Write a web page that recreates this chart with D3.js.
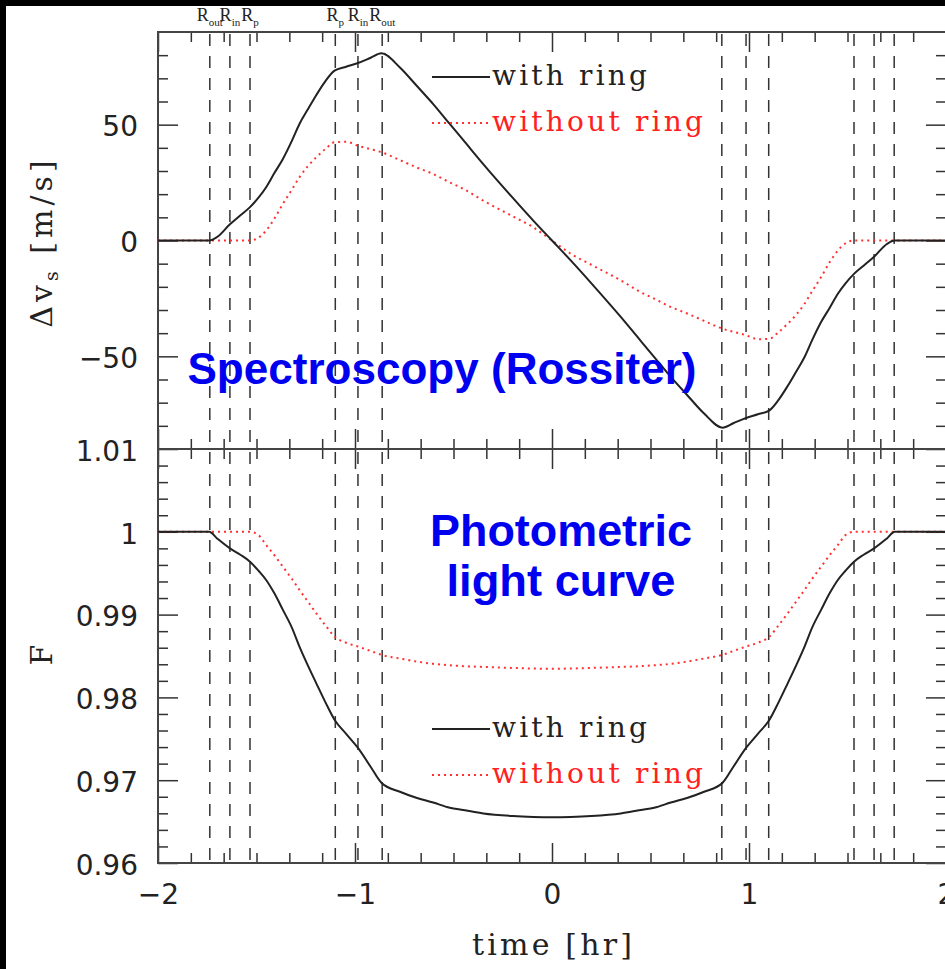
<!DOCTYPE html>
<html>
<head>
<meta charset="utf-8">
<script src="https://cdn.jsdelivr.net/npm/d3@7/dist/d3.min.js"></script>
<style>
  body { margin: 0; background: #000; }
  svg { display: block; }
</style>
</head>
<body>
<svg id="drawing_region"></svg>
<script>
// time grid [hr] shared by all four curves
const time = [-2.0, -1.74, -1.70, -1.635, -1.58, -1.533, -1.49, -1.451, -1.41, -1.366, -1.32, -1.282, -1.24, -1.197,
    -1.15, -1.104, -1.045, -0.985, -0.92, -0.866, -0.772, -0.689, -0.603, -0.519, -0.45, -0.349, -0.2, -0.095, 0,
    0.095, 0.2, 0.349, 0.45, 0.519, 0.603, 0.689, 0.772, 0.866, 0.92, 0.985, 1.045, 1.104, 1.15, 1.197, 1.24,
    1.282, 1.32, 1.366, 1.41, 1.451, 1.49, 1.533, 1.58, 1.635, 1.70, 1.74, 2.0];

// radial velocity anomaly [m/s]
const dv_ring = [0, 0, 1.5, 7, 11, 14.4, 18.5, 23, 29, 35.2, 43.1, 50.3, 56.5, 62.7,
    68.8, 73.3, 75.0, 76.6, 78.9, 80.8, 74.7, 67.0, 58.9, 50.3, 43.3, 33, 18.5, 8.6, 0,
    -8.6, -18.5, -33, -43.3, -50.3, -58.9, -67.0, -74.7, -80.8, -78.9, -76.6, -75.0, -73.3, -68.8, -62.7, -56.5,
    -50.3, -43.1, -35.2, -29, -23, -18.5, -14.4, -11, -7, -1.5, 0, 0];
const dv_noring = [0, 0, 0, 0, 0, 0, 1.2, 4.3, 9.3, 15.8, 22, 27.3, 32, 35.9,
    39.5, 42.4, 42.6, 40.9, 39.4, 38.1, 34.7, 31.6, 28.7, 25.1, 22.3, 17.2, 10.5, 5.7, 0,
    -5.7, -10.5, -17.2, -22.3, -25.1, -28.7, -31.6, -34.7, -38.1, -39.4, -40.9, -42.6, -42.4, -39.5, -35.9, -32,
    -27.3, -22, -15.8, -9.3, -4.3, -1.2, 0, 0, 0, 0, 0, 0];

// relative flux
const F_ring = [1, 1, 0.9992, 0.9980, 0.9972, 0.99639, 0.9953, 0.99418, 0.9926, 0.99057, 0.9884, 0.98614, 0.9839, 0.98173,
    0.9794, 0.97731, 0.9756, 0.9739, 0.9716, 0.9697, 0.9686, 0.96788, 0.9673, 0.96667, 0.9664, 0.96599, 0.96568, 0.96557, 0.96553,
    0.96557, 0.96568, 0.96599, 0.9664, 0.96667, 0.9673, 0.96788, 0.9686, 0.9697, 0.9716, 0.9739, 0.9756, 0.97731, 0.9794, 0.98173, 0.9839,
    0.98614, 0.9884, 0.99057, 0.9926, 0.99418, 0.9953, 0.99639, 0.9972, 0.9980, 0.9992, 1, 1];
const F_noring = [1, 1, 1, 1, 1, 1, 0.9996, 0.9984, 0.9972, 0.99578, 0.9943, 0.99298, 0.9916, 0.99017,
    0.9887, 0.98735, 0.9866, 0.98614, 0.9856, 0.98514, 0.9847, 0.98434, 0.98405, 0.98388, 0.98377, 0.98368, 0.98356, 0.98349, 0.98346,
    0.98349, 0.98356, 0.98368, 0.98377, 0.98388, 0.98405, 0.98434, 0.9847, 0.98514, 0.9856, 0.98614, 0.9866, 0.98735, 0.9887, 0.99017, 0.9916,
    0.99298, 0.9943, 0.99578, 0.9972, 0.9984, 0.9996, 1, 1, 1, 1, 1, 1];

// contact times (dashed lines) and their labels
const contacts = [-1.737, -1.635, -1.533, -1.100, -0.985, -0.862, 0.862, 0.985, 1.100, 1.533, 1.635, 1.737];
const contact_labels = ['out', 'in', 'p', 'p', 'in', 'out'];

const x_ticks = [-2, -1, 0, 1, 2];
const dv_ticks = [-50, 0, 50];
const F_ticks = [0.96, 0.97, 0.98, 0.99, 1, 1.01];
const F_tick_labels = ['0.96', '0.97', '0.98', '0.99', '1', '1.01'];

const W = 945, H = 969;
const left = 158, right = 946;
const top1 = 32, mid = 449, bot2 = 863;

const svg = d3.select('#drawing_region')
    .attr('width', W)
    .attr('height', H);

svg.append('rect').attr('width', W).attr('height', H).attr('fill', '#000');
svg.append('rect').attr('x', 6).attr('y', 6).attr('width', W - 6).attr('height', H - 6).attr('fill', '#fff');

const xscale = d3.scaleLinear().domain([-2, 2]).range([left, right]);
const yscale_dv = d3.scaleLinear().domain([-90, 90]).range([mid, top1]);
const yscale_F = d3.scaleLinear().domain([0.96, 1.01]).range([bot2, mid]);

const x_minor = d3.range(-2, 2.001, 1 / 6).filter(v => Math.abs(v - Math.round(v)) > 1e-6);
const dv_minor = d3.range(-80, 81, 10).filter(v => v % 50 !== 0);
const F_minor = d3.range(0.962, 1.0095, 0.002).filter(v => Math.abs(v * 100 - Math.round(v * 100)) > 1e-6);

const tickColor = '#333';

function drawAxis(axis, tx, ty) {
    const g = svg.append('g')
        .attr('transform', `translate(${tx},${ty})`)
        .call(axis);
    g.select('.domain').remove();
    g.selectAll('line').attr('stroke', tickColor).attr('stroke-width', 1.5);
    g.selectAll('text')
        .attr('font-family', 'DejaVu Sans')
        .attr('font-size', 28)
        .attr('fill', '#222');
    return g;
}

// x axes: top frame, middle (both panels), bottom frame
drawAxis(d3.axisTop(xscale).tickValues(x_ticks).tickSize(-20).tickFormat(''), 0, top1);
drawAxis(d3.axisTop(xscale).tickValues(x_minor).tickSize(-10).tickFormat(''), 0, top1);
drawAxis(d3.axisBottom(xscale).tickValues(x_ticks).tickSize(-20).tickFormat(''), 0, mid);
drawAxis(d3.axisBottom(xscale).tickValues(x_minor).tickSize(-10).tickFormat(''), 0, mid);
drawAxis(d3.axisTop(xscale).tickValues(x_ticks).tickSize(-20).tickFormat(''), 0, mid);
drawAxis(d3.axisTop(xscale).tickValues(x_minor).tickSize(-10).tickFormat(''), 0, mid);
drawAxis(d3.axisBottom(xscale).tickValues(x_ticks).tickSize(-20).tickPadding(21).tickFormat(d3.format('d')), 0, bot2);
drawAxis(d3.axisBottom(xscale).tickValues(x_minor).tickSize(-10).tickFormat(''), 0, bot2);

// y axes, left and right
drawAxis(d3.axisLeft(yscale_dv).tickValues(dv_ticks).tickSize(-20).tickPadding(20).tickFormat(d3.format('d')), left, 0)
    .selectAll('text').attr('dy', '0.4em');
drawAxis(d3.axisLeft(yscale_dv).tickValues(dv_minor).tickSize(-10).tickFormat(''), left, 0);
drawAxis(d3.axisRight(yscale_dv).tickValues(dv_ticks).tickSize(-20).tickFormat(''), right, 0);
drawAxis(d3.axisRight(yscale_dv).tickValues(dv_minor).tickSize(-10).tickFormat(''), right, 0);

drawAxis(d3.axisLeft(yscale_F).tickValues(F_ticks).tickSize(-20).tickPadding(20).tickFormat((d, i) => F_tick_labels[i]), left, 0)
    .selectAll('text').attr('dy', '0.4em');
drawAxis(d3.axisLeft(yscale_F).tickValues(F_minor).tickSize(-10).tickFormat(''), left, 0);
drawAxis(d3.axisRight(yscale_F).tickValues(F_ticks).tickSize(-20).tickFormat(''), right, 0);
drawAxis(d3.axisRight(yscale_F).tickValues(F_minor).tickSize(-10).tickFormat(''), right, 0);

// frames
svg.append('rect')
    .attr('x', left).attr('y', top1)
    .attr('width', right - left).attr('height', bot2 - top1)
    .attr('fill', 'none').attr('stroke', '#444').attr('stroke-width', 2);
svg.append('line')
    .attr('x1', left).attr('x2', right)
    .attr('y1', mid).attr('y2', mid)
    .attr('stroke', '#444').attr('stroke-width', 2);

// contact lines
svg.selectAll('.contact')
    .data(contacts)
    .enter()
    .append('line')
    .attr('class', 'contact')
    .attr('x1', d => xscale(d)).attr('x2', d => xscale(d))
    .attr('y1', top1 + 2).attr('y2', bot2)
    .attr('stroke', '#333')
    .attr('stroke-width', 1.5)
    .attr('stroke-dasharray', '12,10');

// R labels above the first six contacts
const rlab = svg.selectAll('.rlab')
    .data(contacts.slice(0, 6))
    .enter()
    .append('text')
    .attr('class', 'rlab')
    .attr('x', d => xscale(d))
    .attr('y', 21)
    .attr('text-anchor', 'middle')
    .attr('font-family', 'Liberation Serif')
    .attr('font-size', 18)
    .attr('fill', '#222');
rlab.append('tspan').text('R');
rlab.append('tspan')
    .attr('dy', 5)
    .attr('font-size', 11)
    .text((d, i) => contact_labels[i]);

// curves
const line_dv = d3.line()
    .x((d, i) => xscale(time[i]))
    .y(d => yscale_dv(d))
    .curve(d3.curveMonotoneX);
const line_F = d3.line()
    .x((d, i) => xscale(time[i]))
    .y(d => yscale_F(d))
    .curve(d3.curveMonotoneX);

svg.append('path').attr('d', line_dv(dv_noring))
    .attr('fill', 'none').attr('stroke', '#ff3030').attr('stroke-width', 2).attr('stroke-dasharray', '2,4');
svg.append('path').attr('d', line_dv(dv_ring))
    .attr('fill', 'none').attr('stroke', '#222').attr('stroke-width', 2);
svg.append('path').attr('d', line_F(F_noring))
    .attr('fill', 'none').attr('stroke', '#ff3030').attr('stroke-width', 2).attr('stroke-dasharray', '2,4');
svg.append('path').attr('d', line_F(F_ring))
    .attr('fill', 'none').attr('stroke', '#222').attr('stroke-width', 2);

// legends
function legend(y0) {
    svg.append('line').attr('x1', 432).attr('x2', 490).attr('y1', y0).attr('y2', y0)
        .attr('stroke', '#222').attr('stroke-width', 2);
    svg.append('text').attr('x', 492).attr('y', y0 + 8)
        .attr('font-family', 'DejaVu Serif').attr('font-size', 28).attr('fill', '#222')
        .attr('textLength', 155).attr('lengthAdjust', 'spacing')
        .text('with ring');
    svg.append('line').attr('x1', 432).attr('x2', 490).attr('y1', y0 + 46).attr('y2', y0 + 46)
        .attr('stroke', '#ff3030').attr('stroke-width', 2).attr('stroke-dasharray', '2,4');
    svg.append('text').attr('x', 492).attr('y', y0 + 54)
        .attr('font-family', 'DejaVu Serif').attr('font-size', 28).attr('fill', '#ff2020')
        .attr('textLength', 211).attr('lengthAdjust', 'spacing')
        .text('without ring');
}
legend(77);
legend(729);

// axis titles
svg.append('text')
    .attr('x', 552).attr('y', 955)
    .attr('text-anchor', 'middle')
    .attr('font-family', 'DejaVu Serif').attr('font-size', 30).attr('fill', '#222')
    .attr('textLength', 160).attr('lengthAdjust', 'spacing')
    .text('time [hr]');

const ylab = svg.append('text')
    .attr('transform', 'translate(52,242) rotate(-90)')
    .attr('text-anchor', 'middle')
    .attr('font-family', 'DejaVu Serif').attr('font-size', 30).attr('fill', '#222')
    .attr('letter-spacing', 4);
ylab.append('tspan').text('Δv');
ylab.append('tspan').attr('dy', 6).attr('font-size', 19).text('s');
ylab.append('tspan').attr('dy', -6).text(' [m/s]');

svg.append('text')
    .attr('transform', 'translate(52,655) rotate(-90)')
    .attr('text-anchor', 'middle')
    .attr('font-family', 'DejaVu Serif').attr('font-size', 30).attr('fill', '#222')
    .text('F');

// panel captions
function caption(txt, x, y, len) {
    svg.append('text')
        .attr('x', x).attr('y', y)
        .attr('text-anchor', 'middle')
        .attr('font-family', 'Liberation Sans').attr('font-weight', 'bold')
        .attr('font-size', 44).attr('fill', '#0000f0')
        .attr('textLength', len).attr('lengthAdjust', 'spacingAndGlyphs')
        .text(txt);
}
caption('Spectroscopy (Rossiter)', 442, 384, 509);
caption('Photometric', 561, 546, 262);
caption('light curve', 561, 596, 229);
</script>
</body>
</html>
